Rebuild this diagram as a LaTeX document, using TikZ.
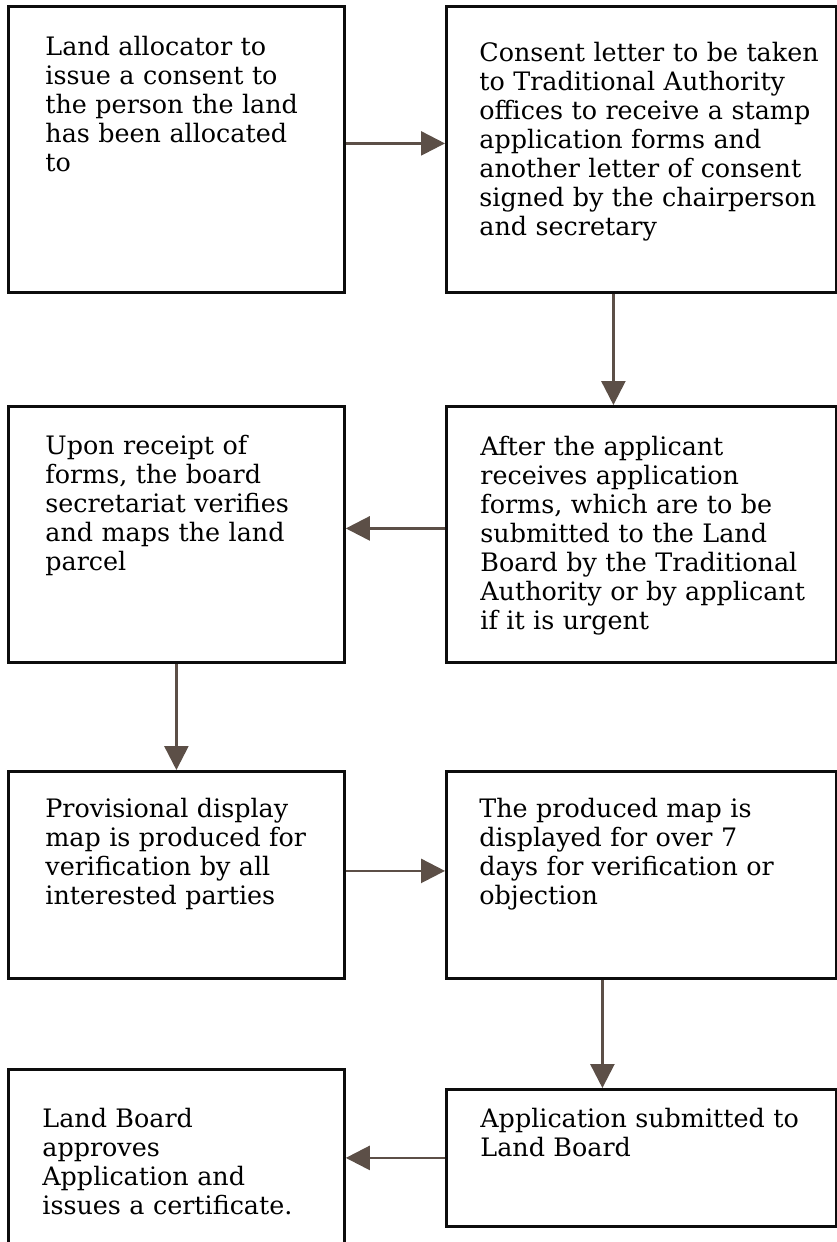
\documentclass[tikz,border=0pt]{standalone}
\usepackage{fontspec}
\setmainfont{DejaVu Serif}
\usetikzlibrary{arrows.meta}
\definecolor{arrowbrown}{RGB}{92,79,71}

\begin{document}
\begin{tikzpicture}[
    x=0.5pt, y=-0.5pt,
    >={Triangle[length=12pt, width=12pt]},
    block/.style={
        draw=black!95,
        line width=1.4pt,
        rectangle,
        anchor=north west,
        inner sep=0pt
    },
    leftblock/.style={block, minimum width=168pt},
    rightblock/.style={block, minimum width=195pt},
    words/.style={
        anchor=north west,
        inner sep=0pt,
        text width=180pt,
        align=left,
        text height=9.2pt,
        font=\fontsize{12.7}{14.5}\selectfont
    },
    link/.style={->, draw=arrowbrown, line width=1.3pt}
]
    \useasboundingbox (0,0) rectangle (836,1242);

    % Boxes
    \node[leftblock, minimum height=143pt] (allocator) at (7,5) {};
    \node[rightblock, minimum height=143pt] (consent) at (445,5) {};
    \node[leftblock, minimum height=128pt] (verify) at (7,405) {};
    \node[rightblock, minimum height=128pt] (forms) at (445,405) {};
    \node[leftblock, minimum height=103.5pt] (provisional) at (7,770) {};
    \node[rightblock, minimum height=103.5pt] (display) at (445,770) {};
    \node[leftblock, minimum height=100pt] (approve) at (7,1068) {};
    \node[rightblock, minimum height=68.5pt] (submit) at (445,1088) {};

    % Texts
    \node[words] (allocator text) at (45,37)
    {Land allocator to\\issue a consent to\\the person the land\\has been allocated\\to};

    \node[words] (consent text) at (479,43)
    {Consent letter to be taken\\to Traditional Authority\\offices to receive a stamp\\application forms and\\another letter of consent\\signed by the chairperson\\and secretary};

    \node[words] (verify text) at (45,436)
    {Upon receipt of\\forms, the board\\secretariat verifies\\and maps the land\\parcel};

    \node[words] (forms text) at (480,437)
    {After the applicant\\receives application\\forms, which are to be\\submitted to the Land\\Board by the Traditional\\Authority or by applicant\\if it is urgent};

    \node[words] (provisional text) at (45,799)
    {Provisional display\\map is produced for\\verification by all\\interested parties};

    \node[words] (display text) at (479,799)
    {The produced map is\\displayed for over 7\\days for verification or\\objection};

    \node[words] (approve text) at (42,1109)
    {Land Board\\approves\\Application and\\issues a certificate.};

    \node[words] (submit text) at (480,1109)
    {Application submitted to\\Land Board};

    % Arrows
    \draw[link] ([yshift=3pt]allocator.east) -- ([yshift=3pt]consent.west);
    \draw[link] ([xshift=-14pt]consent.south) -- ([xshift=-14pt]forms.north);
    \draw[link] ([yshift=3pt]forms.west) -- ([yshift=3pt]verify.east);
    \draw[link] (verify.south) -- (provisional.north);
    \draw[link] ([yshift=2pt]provisional.east) -- ([yshift=2pt]display.west);
    \draw[link] ([xshift=-19.5pt]display.south) -- ([xshift=-19.5pt]submit.north);
    \draw[link] (submit.west) -- (submit.west -| approve.east);

\end{tikzpicture}
\end{document}
